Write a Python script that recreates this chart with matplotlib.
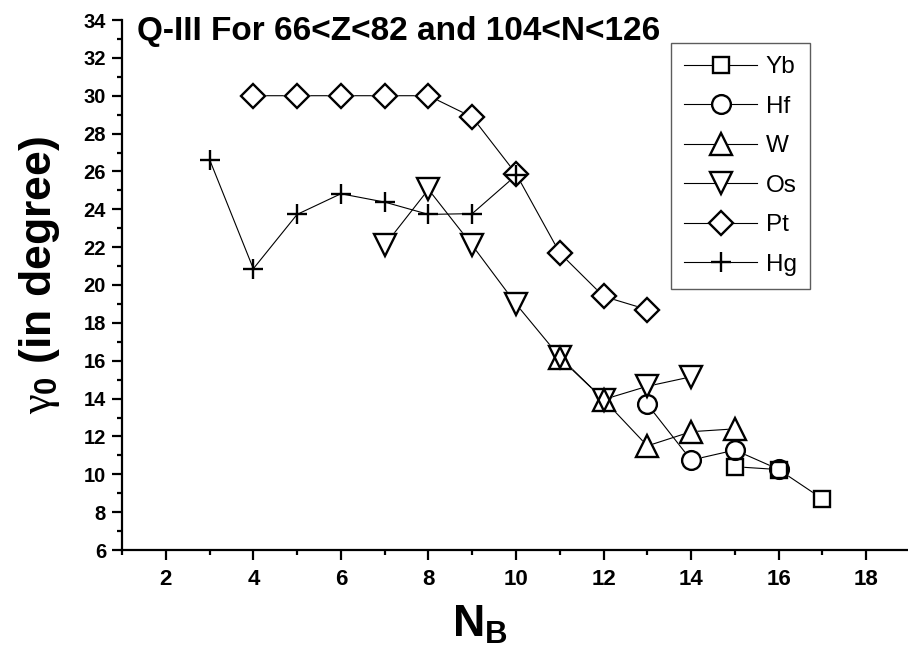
import matplotlib
matplotlib.use("Agg")
import matplotlib.pyplot as plt
from matplotlib.ticker import MultipleLocator

# gamma_0 values (degrees) versus boson number N_B for each element
nb_yb = [15, 16, 17]
gamma_yb = [10.4, 10.25, 8.7]

nb_hf = [13, 14, 15, 16]
gamma_hf = [13.7, 10.75, 11.28, 10.26]

nb_w = [11, 12, 13, 14, 15]
gamma_w = [16.15, 13.95, 11.5, 12.25, 12.4]

nb_os = [7, 8, 9, 10, 11, 12, 13, 14]
gamma_os = [22.1, 25.05, 22.1, 19.0, 16.2, 13.95, 14.65, 15.15]

nb_pt = [4, 5, 6, 7, 8, 9, 10, 11, 12, 13]
gamma_pt = [30.0, 30.0, 30.0, 30.0, 30.0, 28.87, 25.88, 21.69, 19.4, 18.7]

nb_hg = [3, 4, 5, 6, 7, 8, 9, 10]
gamma_hg = [26.63, 20.86, 23.73, 24.82, 24.38, 23.73, 23.77, 25.79]

labels = ["Yb", "Hf", "W", "Os", "Pt", "Hg"]

plt.rcParams["font.family"] = ["Liberation Sans", "DejaVu Sans"]
plt.rcParams["mathtext.fontset"] = "custom"
plt.rcParams["mathtext.it"] = "Liberation Serif"
plt.rcParams["mathtext.rm"] = "Liberation Serif"

fig = plt.figure(figsize=(9.08, 6.64), dpi=100)
ax = fig.add_axes([122 / 908, 1 - 550 / 664, 788 / 908, 530 / 664])

series = [
    (nb_yb, gamma_yb, "s", 12.2),
    (nb_hf, gamma_hf, "o", 13.5),
    (nb_w, gamma_w, "^", 16.5),
    (nb_os, gamma_os, "v", 16.5),
    (nb_pt, gamma_pt, "D", 12.7),
    (nb_hg, gamma_hg, "+", 14.5),
]

mew = 1.7
handles = []
for (x, y, m, ms), lab in zip(series, labels):
    # connecting line
    ax.plot(x, y, "-", color="black", lw=0.8, zorder=1)
    # white interior hides the line inside the symbol
    if m != "+":
        ax.plot(x, y, ls="none", marker=m, ms=ms, mfc="white", mec="white",
                mew=mew, zorder=2)
    # hollow outline on top so overlapping symbols stay visible
    ax.plot(x, y, ls="none", marker=m, ms=ms, mfc="none", mec="black",
            mew=mew, zorder=3)
    h, = ax.plot([], [], "-", color="black", lw=0.8, marker=m, ms=ms,
                 mfc="white", mec="black", mew=mew, label=lab)
    handles.append(h)

ax.set_xlim(1, 19)
ax.set_ylim(6, 34)
ax.xaxis.set_major_locator(MultipleLocator(2))
ax.xaxis.set_minor_locator(MultipleLocator(1))
ax.yaxis.set_major_locator(MultipleLocator(2))
ax.yaxis.set_minor_locator(MultipleLocator(1))

for s in ["top", "right"]:
    ax.spines[s].set_visible(False)
for s in ["left", "bottom"]:
    ax.spines[s].set_linewidth(1.6)

ax.tick_params(which="major", direction="out", length=7.5, width=1.6)
ax.tick_params(which="minor", direction="out", length=3.8, width=1.6)
ax.tick_params(axis="y", which="major", pad=4)
ax.tick_params(axis="x", which="major", pad=6)

for t in ax.get_yticklabels():
    t.set_fontweight("bold")
    t.set_fontsize(14.5)
for t in ax.get_xticklabels():
    t.set_fontweight("bold")
    t.set_fontsize(16)

ax.text(0.019, 0.979, "Q-III For 66<Z<82 and 104<N<126", transform=ax.transAxes,
        ha="left", va="center", fontsize=24, fontweight="bold")

leg = ax.legend(handles=handles, loc="upper left",
                bbox_to_anchor=((671 - 122) / 788, (550 - 43) / 530),
                frameon=True, fancybox=False, fontsize=17.5, handlelength=3.0,
                handletextpad=0.35, labelspacing=0.72, borderpad=0.55,
                borderaxespad=0)
leg.get_frame().set_edgecolor("#333333")
leg.get_frame().set_linewidth(1.0)

fig.text(40 / 908, 1 - 275 / 664, r"$\gamma_{\mathregular{0}}$ (in degree)",
         rotation=90, ha="center", va="center", fontsize=32, fontweight="bold")
fig.text(480 / 908, 1 - 625 / 664, r"$\mathregular{N_B}$", ha="center",
         va="center", fontsize=32, fontweight="bold")

fig.savefig("out.png", dpi=100)
